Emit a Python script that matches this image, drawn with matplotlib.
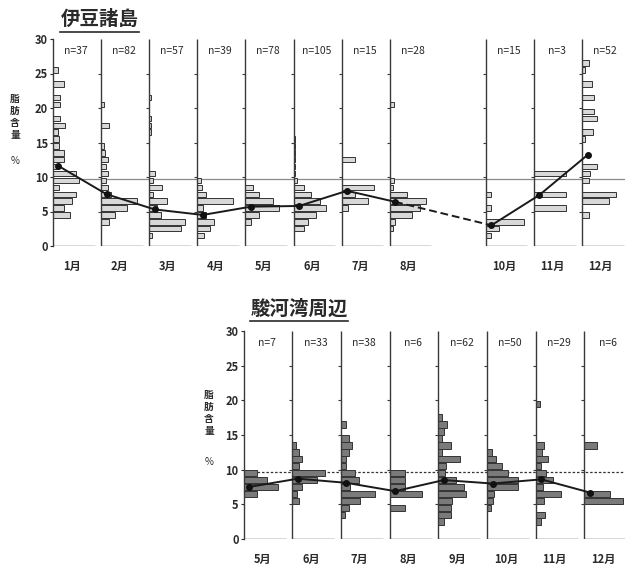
import matplotlib
matplotlib.use('Agg')
import matplotlib.pyplot as plt
from matplotlib.lines import Line2D

plt.rcParams['font.family'] = ['Noto Sans CJK JP', 'DejaVu Sans']

# ---------------- data ----------------
izu_title = '伊豆諸島'
izu_months = ['1月', '2月', '3月', '4月', '5月', '6月', '7月', '8月', '10月', '11月', '12月']
izu_month_num = [1, 2, 3, 4, 5, 6, 7, 8, 10, 11, 12]
izu_n = [37, 82, 57, 39, 78, 105, 15, 28, 15, 3, 52]
izu_mean = [11.6, 7.5, 5.3, 4.5, 5.7, 5.8, 8.0, 6.4, 3.0, 7.4, 13.2]
izu_bins = [
    [25, 23, 21, 20, 18, 17, 16, 15, 14, 13, 12, 11, 10, 9, 8, 7, 6, 5, 4],
    [20, 17, 14, 13, 12, 11, 10, 9, 8, 7, 6, 5, 4, 3],
    [21, 18, 17, 16, 10, 9, 8, 7, 6, 5, 4, 3, 2, 1],
    [9, 8, 7, 6, 5, 4, 3, 2, 1],
    [8, 7, 6, 5, 4, 3],
    [15, 14, 13, 12, 11, 10, 9, 8, 7, 6, 5, 4, 3, 2],
    [12, 8, 7, 6, 5],
    [20, 9, 8, 7, 6, 5, 4, 3, 2],
    [7, 5, 3, 2, 1],
    [10, 7, 5],
    [26, 25, 23, 21, 19, 18, 16, 15, 11, 10, 9, 7, 6, 4],
]
izu_freq = [
    [2.4, 5.0, 3.0, 3.0, 3.0, 5.5, 2.4, 2.7, 2.7, 5.0, 5.0, 2.7, 10.4, 11.9, 2.7, 10.4, 8.8, 5.0, 7.6],
    [1.2, 3.5, 1.2, 2.0, 3.0, 2.4, 3.0, 2.4, 3.0, 4.5, 16.5, 12.0, 6.5, 3.5],
    [0.8, 0.8, 0.8, 0.8, 2.6, 1.8, 5.8, 1.8, 8.1, 3.5, 5.5, 16.5, 14.5, 1.5],
    [1.5, 2.0, 3.8, 16.5, 2.5, 4.0, 7.5, 6.0, 3.0],
    [3.5, 6.4, 12.5, 15.2, 6.4, 2.5],
    [0.8, 0.8, 0.8, 0.8, 0.8, 0.8, 1.5, 5.0, 8.0, 11.9, 15.0, 10.4, 6.6, 5.0],
    [6.1, 14.8, 6.0, 12.2, 3.0],
    [2.1, 2.0, 1.5, 8.0, 16.5, 14.0, 10.0, 2.2, 1.5],
    [2.3, 2.3, 17.5, 6.0, 2.3],
    [14.5, 14.5, 14.5],
    [3.0, 1.5, 4.6, 5.3, 5.3, 6.9, 5.0, 1.5, 6.9, 3.5, 3.0, 15.7, 12.2, 3.0],
]

sur_title = '駿河湾周辺'
sur_months = ['5月', '6月', '7月', '8月', '9月', '10月', '11月', '12月']
sur_month_num = [5, 6, 7, 8, 9, 10, 11, 12]
sur_n = [7, 33, 38, 6, 62, 50, 29, 6]
sur_mean = [7.5, 8.7, 8.1, 6.9, 8.5, 8.0, 8.6, 6.7]
sur_bins = [
    [9, 8, 7, 6],
    [13, 12, 11, 10, 9, 8, 7, 6, 5],
    [16, 14, 13, 12, 11, 10, 9, 8, 7, 6, 5, 4, 3],
    [9, 8, 7, 6, 4],
    [17, 16, 15, 14, 13, 12, 11, 10, 9, 8, 7, 6, 5, 4, 3, 2],
    [12, 11, 10, 9, 8, 7, 6, 5, 4],
    [19, 13, 12, 11, 10, 9, 8, 7, 6, 5, 3, 2],
    [13, 6, 5],
]
sur_freq = [
    [6.3, 10.8, 15.8, 6.3],
    [1.5, 3.0, 4.5, 3.0, 15.0, 11.3, 4.5, 2.0, 3.0],
    [2.3, 3.5, 5.0, 3.5, 2.3, 2.3, 6.5, 8.0, 4.2, 15.5, 8.7, 3.5, 2.0],
    [6.8, 6.8, 6.8, 14.6, 7.0],
    [1.5, 4.0, 2.6, 1.5, 5.6, 1.5, 10.0, 3.3, 3.0, 8.0, 11.6, 12.3, 6.3, 5.6, 5.6, 2.6],
    [2.1, 4.0, 7.0, 9.3, 13.8, 14.0, 3.3, 2.6, 1.8],
    [2.1, 3.6, 3.0, 5.6, 2.6, 4.8, 7.8, 3.3, 11.6, 3.6, 4.0, 2.6],
    [5.6, 11.6, 17.3],
]
ref_level = 9.7
ylabel_text = '脂\n肪\n含\n量'

# ---------------- layout ----------------
W, H = 625, 569
fig = plt.figure(figsize=(W / 100, H / 100), dpi=100)
fig.patch.set_facecolor('white')

SPACING = 22.0      # frequency units between panels
BASE_LEN = 19.0
OFF = 2.5
TXT = '#2a2a2a'
LINE = '#3a3a3a'


def add_ax(x0, x1, y0, y1, px_per_month):
    ax = fig.add_axes([x0 / W, (H - y1) / H, (x1 - x0) / W, (y1 - y0) / H])
    ax.set_xlim(0, (x1 - x0) / px_per_month * SPACING)
    ax.set_ylim(0, 30)
    ax.patch.set_alpha(0)
    return ax


def draw_region(ax, labels, mnum, ns, means, bins, freqs, first_month,
                face, bar_h, ref_kw, gap_dashed):
    for sp in ['top', 'right', 'bottom']:
        ax.spines[sp].set_visible(False)
    ax.spines['left'].set_bounds(0, 30)
    ax.spines['left'].set_color(LINE)
    ax.spines['left'].set_linewidth(1.0)
    ax.set_xticks([])
    ax.set_yticks(range(0, 31, 5))
    ax.tick_params(axis='y', direction='out', length=2.5, width=0.8,
                   labelsize=8, colors=TXT, pad=1)
    for t in ax.get_yticklabels():
        t.set_fontweight('bold')
    ax.axhline(ref_level, zorder=1, **ref_kw)

    pos = [(m - first_month) * SPACING for m in mnum]
    for i, x in enumerate(pos):
        if i > 0:
            ax.vlines(x, 0, 30, color=LINE, lw=1.0, zorder=3)
            ax.plot([x] * 5, [5, 10, 15, 20, 25], ls='none', marker=0,
                    ms=2.5, mew=0.8, color=LINE, zorder=3)
        ax.hlines(0, x, x + BASE_LEN, color=LINE, lw=1.0, zorder=3)
        ax.barh([b + 0.5 for b in bins[i]], freqs[i], left=x, height=bar_h,
                color=face, edgecolor='#333333', linewidth=0.7, zorder=2)
        ax.text(x + 10.5, 28.2, f'n={ns[i]}', ha='center', va='center',
                fontsize=7.5, color=TXT)
        ax.text(x + 8.5, -2.9, labels[i], ha='center', va='center',
                fontsize=8, fontweight='bold', color=TXT, clip_on=False)

    xs = [p + OFF for p in pos]
    for i in range(len(xs) - 1):
        dashed = gap_dashed and (mnum[i + 1] - mnum[i] > 1)
        ax.plot(xs[i:i + 2], means[i:i + 2], color='#1a1a1a', lw=1.4,
                ls=(0, (4, 2)) if dashed else '-', zorder=4)
    ax.plot(xs, means, ls='none', marker='o', ms=4, color='#111111', zorder=5)


# top region
ax1 = add_ax(53, 625, 39, 246, 48.1)
draw_region(ax1, izu_months, izu_month_num, izu_n, izu_mean, izu_bins, izu_freq,
            1, '#d8d8d8', 0.78, dict(color='#8a8a8a', lw=0.9), True)

# bottom region
ax2 = add_ax(243.5, 625, 331, 539, 48.7)
draw_region(ax2, sur_months, sur_month_num, sur_n, sur_mean, sur_bins, sur_freq,
            5, '#7a7a7a', 0.92, dict(color='#333333', lw=0.9, ls=(0, (2, 1.5))), False)


def fig_text(px, py, s, **kw):
    fig.text(px / W, 1 - py / H, s, **kw)


def underline(x0, x1, py):
    fig.add_artist(Line2D([x0 / W, x1 / W], [1 - py / H, 1 - py / H],
                          color=TXT, lw=1.2))


fig_text(61, 19, izu_title, fontsize=14, fontweight='bold', color=TXT,
         ha='left', va='center')
underline(60, 139, 32)
fig_text(251, 309, sur_title, fontsize=14, fontweight='bold', color=TXT,
         ha='left', va='center')
underline(250, 348, 321)

fig_text(15, 117, ylabel_text, fontsize=7, fontweight='bold', color=TXT,
         ha='center', va='center', linespacing=1.25)
fig_text(15, 161, '%', fontsize=7, color=TXT, ha='center', va='center')
fig_text(209, 413, ylabel_text, fontsize=7, fontweight='bold', color=TXT,
         ha='center', va='center', linespacing=1.25)
fig_text(209, 462, '%', fontsize=7, color=TXT, ha='center', va='center')

fig.savefig('out.png', dpi=100, facecolor='white')
